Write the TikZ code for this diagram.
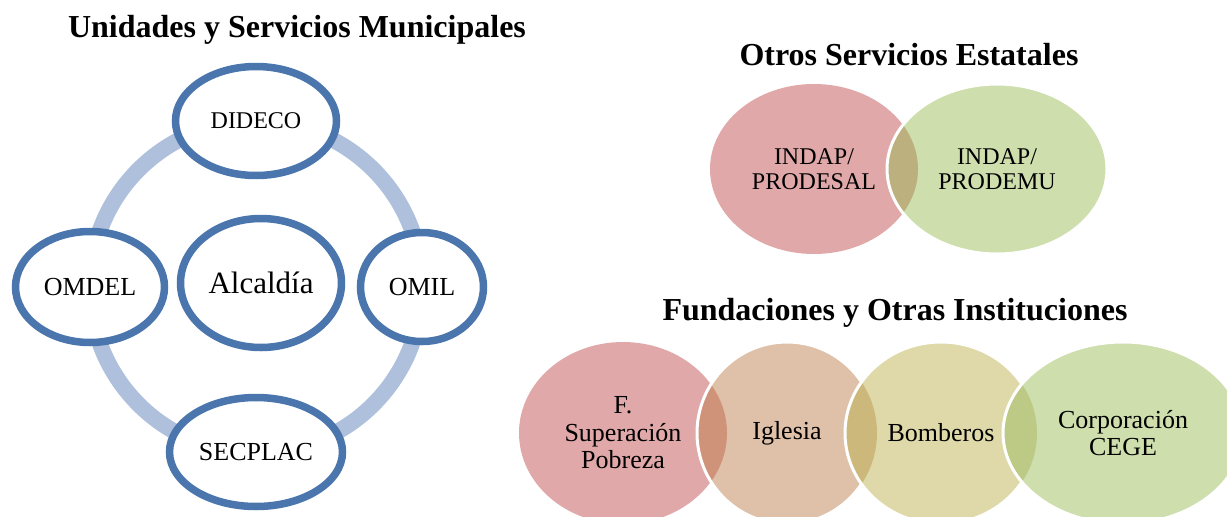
\documentclass[tikz,border=0pt]{standalone}
\usepackage{fontspec}
\setmainfont{Liberation Serif}
\usetikzlibrary{shapes.geometric,shadows}

\definecolor{ringblue}{HTML}{AFC0DC}
\definecolor{edgeblue}{HTML}{4A76AD}
\definecolor{vred}{HTML}{E0A8A8}
\definecolor{vtan}{HTML}{DFC0A8}
\definecolor{vyellow}{HTML}{DFD9AA}
\definecolor{vgreen}{HTML}{CEDEAD}
\definecolor{mixrg}{HTML}{BCB07F}
\definecolor{mixrt}{HTML}{CF937A}
\definecolor{mixty}{HTML}{CDB87C}
\definecolor{mixyg}{HTML}{BDCA86}

\begin{document}
\begin{tikzpicture}[x=1pt,y=-1pt,
    title/.style={font=\fontsize{32}{34}\selectfont\bfseries, anchor=base},
    unit/.style={ellipse, draw=edgeblue, line width=7.5pt, fill=white, inner sep=0pt,
        font=\fontsize{26}{28}\selectfont,
        drop shadow={shadow xshift=1.5pt, shadow yshift=-2.5pt, opacity=.2}},
    ring/.style={draw=ringblue, line width=16pt},
    vlabel/.style={align=center, font=\fontsize{26}{27.5}\selectfont},
    seam/.style={draw=white, line width=3pt}]

            \clip (0,0) rectangle (1227,517);

            % municipal ring
            \coordinate (0) at (256,287);
            \coordinate (1) at (256,121);
            \coordinate (2) at (422,287);
            \coordinate (3) at (256,452);
            \coordinate (4) at (90,287);

            \node[title] (t1) at (297,37) {Unidades y Servicios Municipales};

            \draw[ring] (0) circle [radius=166pt];

            \node[unit, minimum width=161pt, minimum height=109pt, font=\fontsize{24}{26}\selectfont] (v1) at (1) {DIDECO};
            \node[unit, minimum width=123pt, minimum height=109pt] (v2) at (2) {OMIL};
            \node[unit, minimum width=173pt, minimum height=109pt] (v3) at (3) {SECPLAC};
            \node[unit, minimum width=149pt, minimum height=111pt] (v4) at (4) {OMDEL};
            \node[unit, minimum width=161pt, minimum height=129pt, font=\fontsize{31}{33}\selectfont] (v0) at (261,283) {Alcaldía};

            % estatales
            \coordinate (e1) at (814,169);
            \coordinate (e2) at (997,169);

            \node[title] (t2) at (909,65) {Otros Servicios Estatales};

            \fill[vred] (e1) circle [x radius=104pt, y radius=85pt];
            \fill[vgreen] (e2) circle [x radius=110pt, y radius=85pt];
            \begin{scope}
                \clip (e1) circle [x radius=104pt, y radius=85pt];
                \fill[mixrg] (e2) circle [x radius=110pt, y radius=85pt];
            \end{scope}
            \draw[seam] (e2) circle [x radius=110pt, y radius=85pt];

            \node[vlabel, font=\fontsize{24}{25}\selectfont] (w1) at (e1) {INDAP/\\PRODESAL};
            \node[vlabel, font=\fontsize{24}{25}\selectfont] (w2) at (e2) {INDAP/\\PRODEMU};

            % fundaciones
            \coordinate (f1) at (623,433);
            \coordinate (f2) at (787,433);
            \coordinate (f3) at (941,433);
            \coordinate (f4) at (1123,433);

            \node[title] (t3) at (895,320) {Fundaciones y Otras Instituciones};

            \fill[vred] (f1) circle [x radius=104pt, y radius=91pt];
            \fill[vtan] (f2) circle [x radius=90pt, y radius=91pt];
            \begin{scope}
                \clip (f1) circle [x radius=104pt, y radius=91pt];
                \fill[mixrt] (f2) circle [x radius=90pt, y radius=91pt];
            \end{scope}
            \draw[seam] (f2) circle [x radius=90pt, y radius=91pt];

            \fill[vyellow] (f3) circle [x radius=96pt, y radius=91pt];
            \begin{scope}
                \clip (f2) circle [x radius=90pt, y radius=91pt];
                \fill[mixty] (f3) circle [x radius=96pt, y radius=91pt];
            \end{scope}
            \draw[seam] (f3) circle [x radius=96pt, y radius=91pt];

            \fill[vgreen] (f4) circle [x radius=120pt, y radius=91pt];
            \begin{scope}
                \clip (f3) circle [x radius=96pt, y radius=91pt];
                \fill[mixyg] (f4) circle [x radius=120pt, y radius=91pt];
            \end{scope}
            \draw[seam] (f4) circle [x radius=120pt, y radius=91pt];

            \node[vlabel] (g1) at (f1) {F.\\Superación\\Pobreza};
            \node[vlabel] (g2) at (f2) {Iglesia};
            \node[vlabel] (g3) at (f3) {Bomberos};
            \node[vlabel] (g4) at (f4) {Corporación\\CEGE};
\end{tikzpicture}
\end{document}
